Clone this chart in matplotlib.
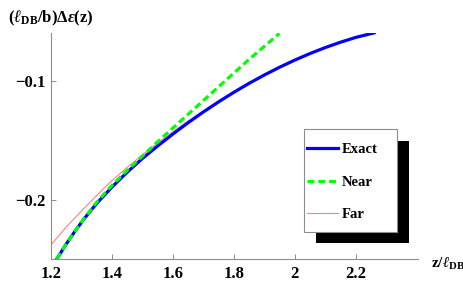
import matplotlib
matplotlib.use('Agg')
import matplotlib.pyplot as plt
from matplotlib.patches import Rectangle

# curve samples
z_exact = [1.22, 1.25, 1.28, 1.31, 1.35, 1.40, 1.45, 1.50, 1.55, 1.60, 1.65, 1.70, 1.75,
           1.80, 1.85, 1.90, 1.95, 2.00, 2.05, 2.10, 2.15, 2.20, 2.26]
eps_exact = [-0.249, -0.2368, -0.2256, -0.2152, -0.2027, -0.189, -0.1765, -0.165, -0.1545,
             -0.1445, -0.135, -0.126, -0.1175, -0.1095, -0.102, -0.095, -0.0885, -0.0825,
             -0.077, -0.072, -0.0675, -0.0635, -0.0597]

z_near = [1.22, 1.25, 1.28, 1.31, 1.35, 1.40, 1.45, 1.50, 1.55, 1.60, 1.65, 1.70, 1.75,
          1.80, 1.85, 1.90, 1.95]
eps_near = [-0.249, -0.2368, -0.2255, -0.215, -0.2017, -0.1875, -0.175, -0.163, -0.151,
            -0.1395, -0.128, -0.1165, -0.105, -0.0935, -0.082, -0.071, -0.0602]

z_far = [1.20, 1.25, 1.30, 1.35, 1.40, 1.45, 1.50, 1.55, 1.60, 1.65, 1.70, 1.75,
         1.80, 1.85, 1.90, 1.95, 2.00, 2.05, 2.10, 2.15, 2.20, 2.26]
eps_far = [-0.2375, -0.2225, -0.2090, -0.1960, -0.1835, -0.1725, -0.162, -0.152, -0.1425,
           -0.1335, -0.125, -0.117, -0.1093, -0.102, -0.0952, -0.089, -0.083, -0.0773,
           -0.0722, -0.0676, -0.0636, -0.0597]

xticks = [1.2, 1.4, 1.6, 1.8, 2.0, 2.2]
xtick_labels = ['1.2', '1.4', '1.6', '1.8', '2', '2.2']
yticks = [-0.2, -0.1]
ytick_labels = ['\u22120.2', '\u22120.1']

plt.rcParams['font.family'] = ['Liberation Serif', 'DejaVu Serif']
plt.rcParams['font.weight'] = 'bold'
plt.rcParams['mathtext.fontset'] = 'custom'
plt.rcParams['mathtext.rm'] = 'Liberation Serif:bold'
plt.rcParams['mathtext.bf'] = 'Liberation Serif:bold'
plt.rcParams['mathtext.it'] = 'Liberation Serif:italic:bold'
plt.rcParams['lines.scale_dashes'] = False

W, H = 464, 290
fig = plt.figure(figsize=(W / 100, H / 100), dpi=100)
ax = fig.add_axes([50.7 / W, 1 - 259 / H, (418 - 50.7) / W, (259 - 33) / H])

gray = '#8c8c8c'
far_line, = ax.plot(z_far, eps_far, color='#ff7f7f', lw=0.8, zorder=2, label='Far')
exact_line, = ax.plot(z_exact, eps_exact, color='#0000ff', lw=2.3, zorder=3, label='Exact')
near_line, = ax.plot(z_near, eps_near, color='#00ff00', lw=2.3, dashes=(5, 2.8), zorder=4,
                     label='Near')

ax.set_xlim(1.2, 2.404)
ax.set_ylim(-0.249, -0.0598)
ax.set_xticks(xticks, xtick_labels)
ax.set_yticks(yticks, ytick_labels)
ax.tick_params(direction='in', length=3.5, width=0.7, color=gray, labelsize=12, pad=4)
ax.tick_params(axis='x', pad=5)
for side in ['top', 'right']:
    ax.spines[side].set_visible(False)
for side in ['left', 'bottom']:
    ax.spines[side].set_color(gray)
    ax.spines[side].set_linewidth(0.8)

fig.text(8 / W, 1 - 18 / H, r'$(\ell_{\mathrm{DB}}/\mathrm{b})\Delta\varepsilon(\mathrm{z})$',
         fontsize=12, ha='left', va='center')
fig.text(431 / W, 1 - 264 / H, r'$\mathrm{z}/\ell_{\mathrm{DB}}$', fontsize=11,
         ha='left', va='center')

# legend box with a solid black drop shadow
fig.add_artist(Rectangle((316 / W, 1 - 243.3 / H), 93 / W, 102.6 / H, transform=fig.transFigure,
                         facecolor='black', edgecolor='none', zorder=2))
fig.add_artist(Rectangle((304.3 / W, 1 - 231.7 / H), 93 / W, 102.4 / H, transform=fig.transFigure,
                         facecolor='white', edgecolor=gray, lw=0.8, zorder=3))
fig.legend(handles=[exact_line, near_line, far_line], loc='upper left',
           bbox_to_anchor=(307 / W, 1 - 143 / H), borderpad=0, borderaxespad=0,
           frameon=False, handlelength=2.1, handletextpad=0.25, labelspacing=1.32,
           fontsize=10.5)

fig.savefig('out.png', dpi=100)
